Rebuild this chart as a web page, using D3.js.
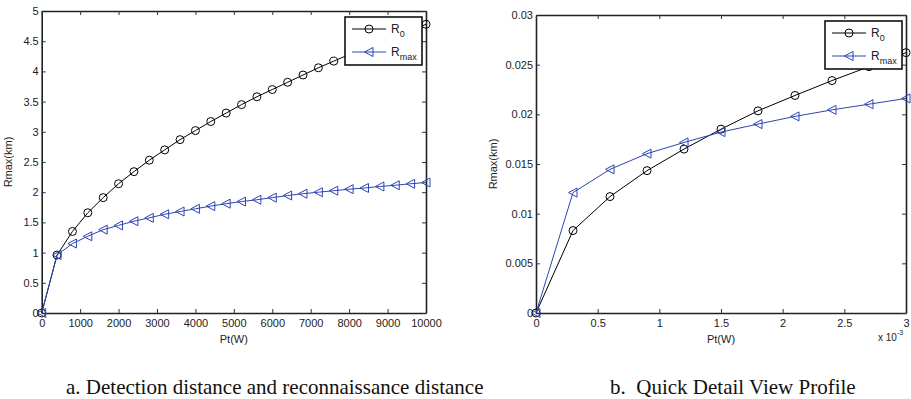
<!DOCTYPE html>
<html>
<head>
<meta charset="utf-8">
<script src="https://cdn.jsdelivr.net/npm/d3@7"></script>
<style>
  body { margin: 0; background: #fff; }
  text { font-family: "Liberation Sans", Arial, sans-serif; fill: #222; }
  .caption { font-family: "Liberation Serif", "Times New Roman", serif; fill: #111; }
</style>
</head>
<body>
<div class="chart"></div>
<script>
// panel a: Pt in W
const ptA = [0, 400, 800, 1200, 1600, 2000, 2400, 2800, 3200, 3600, 4000, 4400, 4800,
             5200, 5600, 6000, 6400, 6800, 7200, 7600, 8000, 8400, 8800, 9200, 9600, 10000];
const r0A = [0, 0.96, 1.35, 1.66, 1.91, 2.14, 2.34, 2.53, 2.70, 2.87, 3.02, 3.17, 3.31,
             3.45, 3.58, 3.70, 3.82, 3.94, 4.06, 4.17, 4.28, 4.38, 4.48, 4.58, 4.68, 4.78];
const rmaxA = [0, 0.96, 1.15, 1.27, 1.38, 1.45, 1.52, 1.575, 1.635, 1.68, 1.725, 1.77, 1.81,
               1.845, 1.875, 1.91, 1.945, 1.975, 2.0, 2.025, 2.05, 2.07, 2.095, 2.115, 2.14, 2.16];
const xTicksA = [0, 1000, 2000, 3000, 4000, 5000, 6000, 7000, 8000, 9000, 10000];
const yTicksA = [0, 0.5, 1, 1.5, 2, 2.5, 3, 3.5, 4, 4.5, 5];
const yLabelsA = ["0", "0.5", "1", "1.5", "2", "2.5", "3", "3.5", "4", "4.5", "5"];

// panel b: Pt in units of 10^-3 W
const ptB = [0, 0.3, 0.6, 0.9, 1.2, 1.5, 1.8, 2.1, 2.4, 2.7, 3.0];
const r0B = [0, 0.0083, 0.01172, 0.01433, 0.0165, 0.01851, 0.02035, 0.0219, 0.0234, 0.0248, 0.02621];
const rmaxB = [0, 0.01212, 0.01446, 0.01604, 0.01717, 0.01821, 0.01902, 0.01979, 0.02045, 0.02102, 0.0216];
const xTicksB = [0, 0.5, 1, 1.5, 2, 2.5, 3];
const xLabelsB = ["0", "0.5", "1", "1.5", "2", "2.5", "3"];
const yTicksB = [0, 0.005, 0.01, 0.015, 0.02, 0.025, 0.03];
const yLabelsB = ["0", "0.005", "0.01", "0.015", "0.02", "0.025", "0.03"];

const width = 911;
const height = 399;
const blue = "#2d44b4";

const svg = d3.select(".chart").append("svg").attr("width", width).attr("height", height);

function drawPanel(p) {
  const x = d3.scaleLinear().domain(p.xDomain).range([p.left, p.right]);
  const y = d3.scaleLinear().domain(p.yDomain).range([p.bottom, p.top]);
  const g = svg.append("g");

  const axes = [
    d3.axisBottom(x).tickValues(p.xTicks).tickFormat((d, i) => p.xLabels[i]),
    d3.axisLeft(y).tickValues(p.yTicks).tickFormat((d, i) => p.yLabels[i]),
    d3.axisTop(x).tickValues(p.xTicks).tickFormat(""),
    d3.axisRight(y).tickValues(p.yTicks).tickFormat("")
  ];
  const shifts = [[0, p.bottom], [p.left, 0], [0, p.top], [p.right, 0]];
  axes.forEach((ax, i) => {
    ax.tickSizeInner(-4).tickSizeOuter(0).tickPadding(i === 0 ? 6 : 3);
    const a = g.append("g").attr("transform", `translate(${shifts[i]})`).call(ax);
    a.selectAll("text").style("font-size", "11px").attr("fill", "#222");
    a.selectAll("line").attr("stroke", "#333");
    a.select(".domain").attr("stroke", "#222").attr("stroke-width", 1.6);
  });

  const line = d3.line().x(d => x(d[0])).y(d => y(d[1]));
  const series = [
    { vals: p.r0, color: "#000", marker: "circle" },
    { vals: p.rmax, color: blue, marker: "tri" }
  ];
  series.forEach(s => {
    const pts = p.xs.map((v, i) => [v, s.vals[i]]);
    g.append("path").datum(pts).attr("d", line)
      .attr("fill", "none").attr("stroke", s.color).attr("stroke-width", 1);
    drawMarkers(g, pts.map(d => [x(d[0]), y(d[1])]), s);
  });

  // legend
  const lw = 77, lh = 48;
  const lx = p.right - 4 - lw, ly = p.top + 6;
  const leg = g.append("g").attr("transform", `translate(${lx},${ly})`);
  leg.append("rect").attr("width", lw).attr("height", lh)
    .attr("fill", "#fff").attr("stroke", "#111").attr("stroke-width", 1.6);
  const labels = [["R", "0"], ["R", "max"]];
  series.forEach((s, i) => {
    const ry = 12 + i * 23;
    leg.append("line").attr("x1", 7).attr("x2", 41).attr("y1", ry).attr("y2", ry)
      .attr("stroke", s.color).attr("stroke-width", 1);
    drawMarkers(leg, [[24, ry]], s);
    const t = leg.append("text").attr("x", 46).attr("y", ry + 4).style("font-size", "12px");
    t.append("tspan").text(labels[i][0]);
    t.append("tspan").attr("dy", 4).style("font-size", "9px").text(labels[i][1]);
  });

  // axis titles
  g.append("text").attr("x", (p.left + p.right) / 2).attr("y", p.bottom + 30)
    .attr("text-anchor", "middle").style("font-size", "11px").text("Pt(W)");
  g.append("text")
    .attr("transform", `translate(${p.yTitleX},${(p.top + p.bottom) / 2}) rotate(-90)`)
    .attr("text-anchor", "middle").style("font-size", "11px").text("Rmax(km)");

  g.append("text").attr("class", "caption").attr("x", p.capX).attr("y", 394)
    .attr("xml:space", "preserve").style("font-size", "21px").text(p.caption);
  return g;
}

function drawMarkers(g, pts, s) {
  if (s.marker === "circle") {
    g.selectAll(null).data(pts).enter().append("circle")
      .attr("cx", d => d[0]).attr("cy", d => d[1]).attr("r", 4)
      .attr("fill", "none").attr("stroke", s.color).attr("stroke-width", 1);
  } else {
    g.selectAll(null).data(pts).enter().append("path")
      .attr("d", d => `M${d[0] - 4.5},${d[1]}L${d[0] + 4},${d[1] - 4.5}L${d[0] + 4},${d[1] + 4.5}Z`)
      .attr("fill", "none").attr("stroke", s.color).attr("stroke-width", 1);
  }
}

drawPanel({
  xs: ptA, r0: r0A, rmax: rmaxA,
  xDomain: [0, 10000], yDomain: [0, 5],
  xTicks: xTicksA, xLabels: xTicksA.map(String), yTicks: yTicksA, yLabels: yLabelsA,
  left: 41.7, right: 426, top: 11, bottom: 313, yTitleX: 12,
  capX: 66, caption: "a. Detection distance and reconnaissance distance"
});

const gB = drawPanel({
  xs: ptB, r0: r0B, rmax: rmaxB,
  xDomain: [0, 3], yDomain: [0, 0.03],
  xTicks: xTicksB, xLabels: xLabelsB, yTicks: yTicksB, yLabels: yLabelsB,
  left: 536, right: 906, top: 15, bottom: 313, yTitleX: 497,
  capX: 610, caption: "b.  Quick Detail View Profile"
});

// exponent of panel b x axis
const ex = gB.append("text").attr("x", 878).attr("y", 341).style("font-size", "10px");
ex.append("tspan").text("x 10");
ex.append("tspan").attr("dy", -6).style("font-size", "7px").text("-3");
</script>
</body>
</html>
